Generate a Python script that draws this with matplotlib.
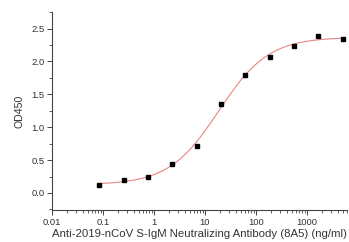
import numpy as np
import matplotlib
matplotlib.use("Agg")
import matplotlib.pyplot as plt
from matplotlib.ticker import LogLocator, FixedLocator, MultipleLocator

# concentrations (ng/ml), 3-fold dilution series
conc = [0.0847, 0.254, 0.762, 2.29, 6.86, 20.6, 61.7, 185, 556, 1667, 5000]
od450 = [0.12, 0.20, 0.25, 0.44, 0.72, 1.35, 1.80, 2.07, 2.235, 2.39, 2.34]

xticks = [0.01, 0.1, 1, 10, 100, 1000]
xticklabels = ["0.01", "0.1", "1", "10", "100", "1000"]
yticks = [0.0, 0.5, 1.0, 1.5, 2.0, 2.5]

# least squares 4PL fit (grid over ec50/hill, linear solve for bottom/top)
x = np.array(conc)
y = np.array(od450)
best = None
for lc in np.arange(0.5, 2.0, 0.005):
    for h in np.arange(0.5, 2.0, 0.01):
        g = 1.0 / (1.0 + (10 ** lc / x) ** h)
        M = np.column_stack([1 - g, g])
        p, res, _, _ = np.linalg.lstsq(M, y, rcond=None)
        err = np.sum((M @ p - y) ** 2)
        if best is None or err < best[0]:
            best = (err, lc, h, p[0], p[1])
_, lc, h, fit_bottom, fit_top = best

plt.rcParams['font.family'] = ['Liberation Sans', 'DejaVu Sans']
txt = '#333333'

fig = plt.figure(figsize=(3.49, 2.42), dpi=100)
ax = fig.add_axes([0.149, 0.132, 0.844, 0.818])

xs = np.logspace(np.log10(conc[0]), np.log10(conc[-1]), 300)
ys = fit_bottom + (fit_top - fit_bottom) / (1 + (10 ** lc / xs) ** h)
ax.plot(xs, ys, color='#e88585', lw=0.8, zorder=2)
ax.plot(conc, od450, 's', color='black', ms=3.4, zorder=3)

ax.set_xscale('log')
ax.set_xlim(0.01, 6000)
ax.set_ylim(-0.26, 2.75)
ax.set_xticks(xticks)
ax.set_xticklabels(xticklabels)
ax.xaxis.set_minor_locator(LogLocator(base=10, subs=np.arange(2, 10)))
ax.xaxis.set_minor_formatter(plt.NullFormatter())
ax.set_yticks(yticks)
ax.set_yticklabels(["%.1f" % v for v in yticks])
ax.yaxis.set_minor_locator(MultipleLocator(0.25))

for s in ['top', 'right']:
    ax.spines[s].set_visible(False)
for s in ['left', 'bottom']:
    ax.spines[s].set_color('#444444')
    ax.spines[s].set_linewidth(0.8)
ax.tick_params(which='major', direction='out', length=3.5, width=0.7,
               colors='#444444', labelsize=6.8, labelcolor=txt, pad=2)
ax.tick_params(which='minor', direction='out', length=2, width=0.6, colors='#444444')

ax.set_xlabel("Anti-2019-nCoV S-IgM Neutralizing Antibody (8A5) (ng/ml)",
              fontsize=8.2, color=txt, labelpad=2)
ax.set_ylabel("OD450", fontsize=7.6, color=txt, labelpad=5)

fig.savefig("out.png", dpi=100)
